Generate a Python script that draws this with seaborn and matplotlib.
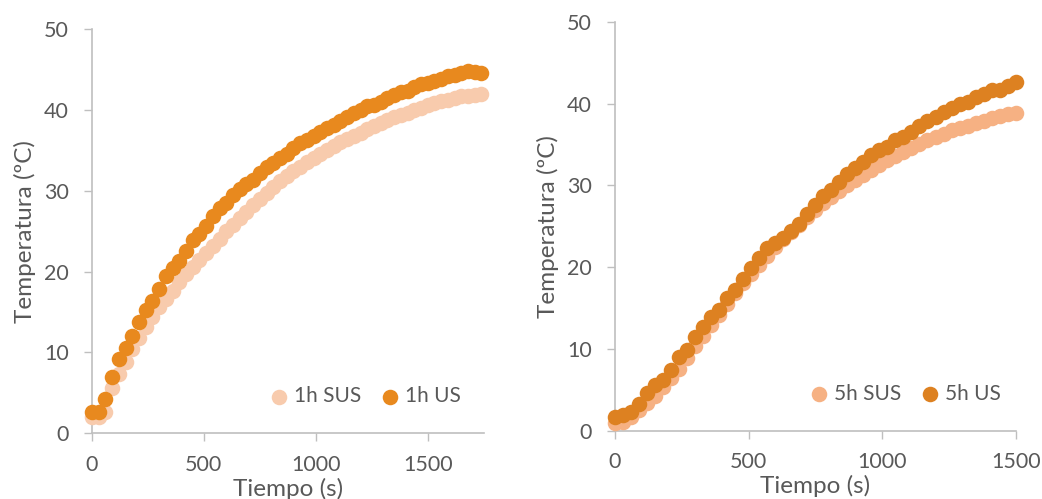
import pandas as pd
import matplotlib.pyplot as plt
import seaborn as sns

# 1h series (left panel), sampled every 30 s
t_1h = list(range(0, 1741, 30))
sus_1h = [2.0, 2.0, 2.6, 5.6, 7.3, 8.8, 10.4, 11.8, 13.2, 14.4, 15.6, 16.6, 17.6, 18.7,
          19.7, 20.6, 21.4, 22.3, 23.2, 24.1, 25.0, 25.8, 26.6, 27.4, 28.2, 29.0, 29.8,
          30.5, 31.2, 31.8, 32.4, 33.0, 33.6, 34.1, 34.6, 35.1, 35.5, 36.0, 36.4, 36.8,
          37.2, 37.7, 38.0, 38.4, 38.8, 39.1, 39.4, 39.7, 40.0, 40.3, 40.6, 40.9, 41.1,
          41.3, 41.5, 41.7, 41.8, 41.9, 42.0]
us_1h = [2.6, 2.6, 4.2, 7.0, 9.2, 10.5, 12.0, 13.8, 15.3, 16.4, 17.8, 19.5, 20.4, 21.3,
         22.6, 23.9, 24.7, 25.6, 26.9, 27.9, 28.5, 29.5, 30.2, 30.9, 31.4, 32.2, 32.9,
         33.4, 34.1, 34.6, 35.3, 35.9, 36.3, 36.8, 37.3, 37.8, 38.2, 38.6, 39.1, 39.6,
         40.0, 40.5, 40.6, 41.0, 41.5, 41.9, 42.3, 42.4, 42.8, 43.2, 43.4, 43.6, 43.9,
         44.2, 44.4, 44.6, 44.8, 44.7, 44.6]

# 5h series (right panel), sampled every 30 s
t_5h = list(range(0, 1501, 30))
sus_5h = [0.9, 1.1, 1.7, 2.5, 3.4, 4.3, 5.3, 6.4, 7.6, 8.9, 10.3, 11.6, 12.9, 14.2,
          15.5, 16.8, 18.0, 19.2, 20.3, 21.4, 22.4, 23.4, 24.3, 25.2, 26.1, 27.0, 27.8,
          28.6, 29.3, 30.0, 30.7, 31.3, 31.9, 32.5, 33.1, 33.6, 34.1, 34.6, 35.1, 35.5,
          35.9, 36.3, 36.7, 37.0, 37.3, 37.6, 37.9, 38.2, 38.5, 38.7, 38.9]
us_5h = [1.7, 1.9, 2.3, 3.3, 4.6, 5.6, 6.2, 7.4, 9.0, 9.9, 11.4, 12.7, 13.9, 14.8,
         16.2, 17.2, 18.6, 19.9, 21.1, 22.3, 22.9, 23.6, 24.4, 25.3, 26.5, 27.6, 28.7,
         29.4, 30.4, 31.4, 32.1, 32.8, 33.7, 34.3, 34.7, 35.5, 35.9, 36.5, 37.2, 37.8,
         38.3, 39.0, 39.5, 39.9, 40.2, 40.8, 41.2, 41.6, 41.7, 42.1, 42.6]

text_col = '#595959'
axis_col = '#BFBFBF'

sns.set_style('white')
plt.rcParams['font.family'] = ['Lato', 'DejaVu Sans']

fig = plt.figure(figsize=(10.42, 4.99), dpi=100)
ax1 = fig.add_axes([0.0883, 0.1317, 0.3758, 0.8096])
ax2 = fig.add_axes([0.5902, 0.1369, 0.3845, 0.8196])

panels = [
    (ax1, t_1h, sus_1h, us_1h, '1h SUS', '1h US', '#F8CBAD', '#E8891E', 1750, 0.99),
    (ax2, t_5h, sus_5h, us_5h, '5h SUS', '5h US', '#F6B183', '#DD8121', 1500, 1.01),
]

for ax, t, sus, us, lab_sus, lab_us, c_sus, c_us, xmax, leg_x in panels:
    sns.scatterplot(x=t, y=sus, ax=ax, color=c_sus, s=125, linewidth=0,
                    label=lab_sus, clip_on=False, zorder=3)
    sns.scatterplot(x=t, y=us, ax=ax, color=c_us, s=125, linewidth=0,
                    label=lab_us, clip_on=False, zorder=4)
    ax.set_xlim(0, xmax)
    ax.set_ylim(0, 50)
    ax.set_xticks([0, 500, 1000, 1500])
    ax.set_yticks(range(0, 51, 10))
    ax.set_xlabel('Tiempo (s)', fontsize=17.5, color=text_col, labelpad=2)
    ax.set_ylabel('Temperatura (ºC)', fontsize=17.5, color=text_col, labelpad=6)
    ax.tick_params(axis='both', colors=axis_col, labelcolor=text_col,
                   labelsize=15.5, length=5.5, width=1.0, direction='out',
                   left=True, bottom=True)
    ax.tick_params(axis='y', pad=11)
    ax.tick_params(axis='x', pad=10)
    for side in ['top', 'right']:
        ax.spines[side].set_visible(False)
    for side in ['left', 'bottom']:
        ax.spines[side].set_color(axis_col)
        ax.spines[side].set_linewidth(1.2)
    ax.legend(loc='lower right', bbox_to_anchor=(leg_x, 0.02), ncol=2, frameon=False,
              fontsize=15, labelcolor=text_col, handlelength=0.8,
              handletextpad=0.3, columnspacing=1.0, markerscale=1.0)

fig.savefig('out.png', dpi=100)
